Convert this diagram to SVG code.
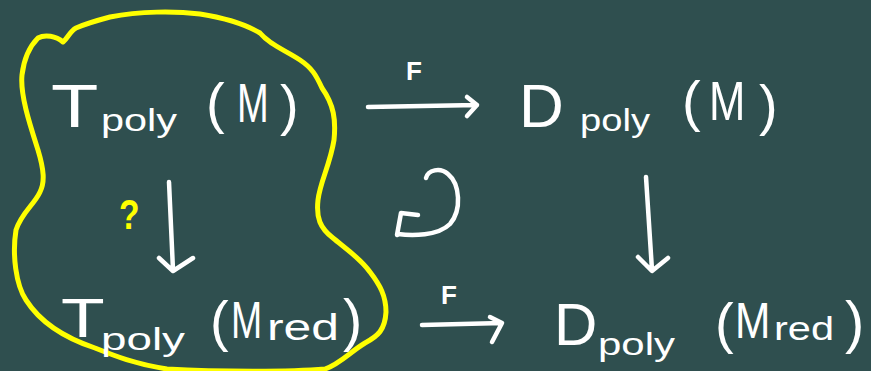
<svg xmlns="http://www.w3.org/2000/svg" width="871" height="371" viewBox="0 0 871 371">
<style>
.t{font-family:"Liberation Sans",Arial,sans-serif;fill:#ffffff}
.ln{fill:none;stroke:#ffffff;stroke-width:4.5;stroke-linecap:round;stroke-linejoin:round}
.yl{fill:none;stroke:#ffff00;stroke-width:5;stroke-linecap:round;stroke-linejoin:round}
</style>
<rect x="0" y="0" width="871" height="371" fill="#2f4f4f"/>
<g id="blob">
<path class="yl" d="M63 42 C56 36 45 34 38 38 C30 46 24 58 22 75 C20 95 30 125 38 150 C44 170 45 182 40 192 C34 205 22 212 16 230 C12 255 16 285 26 300 C40 322 65 338 95 348 C115 356 135 364 167 369 C220 372 290 372 325 369 C340 364 350 352 365 343 C378 336 385 330 386 312 C386 296 380 285 370 272 C360 258 345 248 333 238 C320 228 316 218 318 200 C320 182 330 165 334 140 C336 120 334 105 322 88 C316 75 312 68 300 60 C285 50 270 45 260 33 C245 24 225 18 200 14 C175 11 140 11 110 17 C95 21 85 24 76 28 C70 31 68 38 63 42 Z"/>
</g>
<g id="n-tpoly-m">
<text class="t" transform="translate(51,127) scale(1.25,1)" font-size="62">T</text>
<text class="t" x="101" y="131" font-size="31" textLength="76" lengthAdjust="spacingAndGlyphs">poly</text>
<text class="t" x="206" y="122" font-size="56">(</text>
<text class="t" transform="translate(237,122) scale(0.68,1)" font-size="56">M</text>
<text class="t" x="280" y="124" font-size="56">)</text>
</g>
<g id="n-dpoly-m">
<text class="t" x="519" y="127" font-size="62">D</text>
<text class="t" x="580" y="131" font-size="31" textLength="70" lengthAdjust="spacingAndGlyphs">poly</text>
<text class="t" x="682" y="120" font-size="56">(</text>
<text class="t" transform="translate(709,120) scale(0.78,1)" font-size="56">M</text>
<text class="t" x="759" y="124" font-size="56">)</text>
</g>
<g id="n-tpoly-mred">
<text class="t" transform="translate(61,337) scale(1.3,1)" font-size="55">T</text>
<text class="t" x="101" y="350" font-size="31" textLength="84" lengthAdjust="spacingAndGlyphs">poly</text>
<text class="t" x="210" y="340" font-size="56">(</text>
<text class="t" transform="translate(231,338) scale(0.72,1)" font-size="52">M</text>
<text class="t" x="267" y="340" font-size="36" textLength="72" lengthAdjust="spacingAndGlyphs">red</text>
<text class="t" x="343" y="340" font-size="58">)</text>
</g>
<g id="n-dpoly-mred">
<text class="t" x="554" y="345" font-size="60">D</text>
<text class="t" x="598" y="355" font-size="31" textLength="77" lengthAdjust="spacingAndGlyphs">poly</text>
<text class="t" x="715" y="342" font-size="56">(</text>
<text class="t" transform="translate(735,338) scale(0.85,1)" font-size="50">M</text>
<text class="t" x="774" y="340" font-size="34" textLength="60" lengthAdjust="spacingAndGlyphs">red</text>
<text class="t" x="845" y="342" font-size="58">)</text>
</g>
<g id="connectors">
<path class="ln" d="M368 107 L477 105 M467 97 L477 105 L467 116"/>
<text class="t" x="406" y="80" font-size="26" font-weight="bold">F</text>
<path class="ln" d="M422 325 L502 323 M490 317 L502 323 L492 342"/>
<text class="t" x="441" y="304" font-size="26" font-weight="bold">F</text>
<path class="ln" d="M169 182 L173 270 M159 258 L173 271 L193 258"/>
<path class="ln" d="M646 177 L652 270 M638 257 L652 271 L668 258"/>
<path class="ln" d="M426 178 C428 170 440 167 448 174 C460 184 462 210 450 224 C438 236 412 236 398 234 M418 215 L401 213 L397 235"/>
<text transform="translate(119,229) scale(0.8,1)" font-size="42" font-weight="bold" font-family="Liberation Sans,Arial,sans-serif" fill="#ffff00">?</text>
</g>
</svg>
